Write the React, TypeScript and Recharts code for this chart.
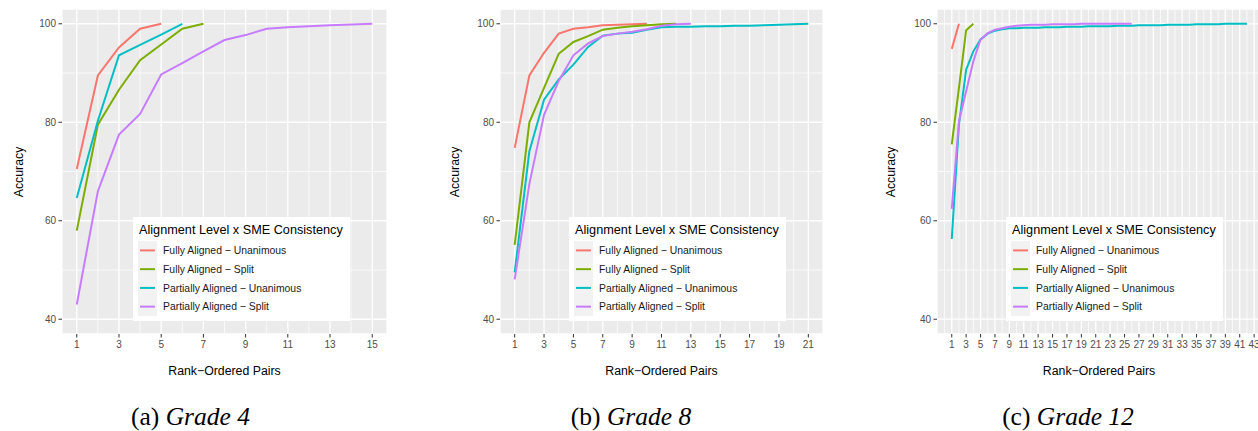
import React from 'react';
import { LineChart, Line, XAxis, YAxis, CartesianGrid } from 'recharts';

const SERIES_NAMES = [
  'Fully Aligned − Unanimous',
  'Fully Aligned − Split',
  'Partially Aligned − Unanimous',
  'Partially Aligned − Split',
];
const SERIES_COLORS = ['#F8766D', '#7CAE00', '#00BFC4', '#C77CFF'];

// Grade 4
const G4_FULLY_UNANIMOUS = [70.5, 89.5, 95.2, 99.0, 100];
const G4_FULLY_SPLIT = [58.0, 79.5, 86.6, 92.6, 95.8, 99.0, 100];
const G4_PARTIAL_UNANIMOUS = [64.6, 80.3, 93.6, 95.7, 97.8, 100];
const G4_PARTIAL_SPLIT = [43.0, 66.0, 77.5, 81.7, 89.7, 92.0, 94.4, 96.7, 97.7, 99.0, 99.3, 99.5, 99.7, 99.85, 100];

// Grade 8
const G8_FULLY_UNANIMOUS = [74.8, 89.5, 94.1, 98.0, 99.0, 99.3, 99.7, 99.8, 99.9, 100];
const G8_FULLY_SPLIT = [55.1, 80.0, 87.0, 93.9, 96.3, 97.5, 98.8, 99.2, 99.5, 99.7, 99.9, 100];
const G8_PARTIAL_UNANIMOUS = [49.5, 74.1, 84.6, 88.7, 91.7, 95.3, 97.6, 98.0, 98.2, 98.8, 99.3, 99.4, 99.4, 99.5, 99.5, 99.6, 99.6, 99.7, 99.8, 99.9, 100];
const G8_PARTIAL_SPLIT = [48.1, 67.5, 81.5, 88.4, 93.6, 96.0, 97.5, 98.0, 98.4, 98.9, 99.6, 99.9, 100];

// Grade 12
const G12_FULLY_UNANIMOUS = [94.9, 100];
const G12_FULLY_SPLIT = [75.5, 87.0, 98.7, 100];
const G12_PARTIAL_UNANIMOUS = [
  56.3, 79.5, 90.7, 94.4, 96.8, 98.0, 98.6, 98.9, 99.1, 99.1,
  99.2, 99.2, 99.2, 99.3, 99.3, 99.3, 99.4, 99.4, 99.4, 99.5,
  99.5, 99.5, 99.5, 99.6, 99.6, 99.6, 99.7, 99.7, 99.7, 99.7,
  99.8, 99.8, 99.8, 99.8, 99.9, 99.9, 99.9, 99.9, 100, 100,
  100, 100,
];
const G12_PARTIAL_SPLIT = [
  62.4, 80.2, 86.3, 92.4, 96.8, 98.1, 98.8, 99.1, 99.4, 99.6,
  99.7, 99.8, 99.8, 99.8, 99.9, 99.9, 99.9, 99.9, 100, 100,
  100, 100, 100, 100, 100, 100,
];

const Y_TICKS = [40, 60, 80, 100];
const Y_MINOR = [50, 70, 90];
const X_TICKS_G4 = [1, 3, 5, 7, 9, 11, 13, 15];
const X_MINOR_G4 = [2, 4, 6, 8, 10, 12, 14];
const X_TICKS_G8 = [1, 3, 5, 7, 9, 11, 13, 15, 17, 19, 21];
const X_MINOR_G8 = [2, 4, 6, 8, 10, 12, 14, 16, 18, 20];
const X_TICKS_G12 = [1, 3, 5, 7, 9, 11, 13, 15, 17, 19, 21, 23, 25, 27, 29, 31, 33, 35, 37, 39, 41, 43];
const X_MINOR_G12 = [0, 2, 4, 6, 8, 10, 12, 14, 16, 18, 20, 22, 24, 26, 28, 30, 32, 34, 36, 38, 40, 42, 44];

const Y_TITLE = 'Accuracy';
const X_TITLE = 'Rank−Ordered Pairs';
const LEGEND_TITLE = 'Alignment Level x SME Consistency';

const SANS = "'Liberation Sans', Arial, Helvetica, sans-serif";
const SERIF = "'Liberation Serif', 'Times New Roman', Times, serif";

type Panel = {
  plotLeft: number;
  plotWidth: number;
  xDomain: [number, number];
  xTicks: number[];
  xMinor: number[];
  series: number[][];
  capPrefix: string;
  capItalic: string;
  capCenter: number;
  legendLeft: number;
  yTitleX: number;
};

const PANELS: Panel[] = [
  {
    plotLeft: 62, plotWidth: 325, xDomain: [0.3, 15.7], xTicks: X_TICKS_G4, xMinor: X_MINOR_G4,
    series: [G4_FULLY_UNANIMOUS, G4_FULLY_SPLIT, G4_PARTIAL_UNANIMOUS, G4_PARTIAL_SPLIT],
    capPrefix: '(a) ', capItalic: 'Grade 4', capCenter: 190.5, legendLeft: 133, yTitleX: 22.5,
  },
  {
    plotLeft: 500, plotWidth: 323, xDomain: [0, 22], xTicks: X_TICKS_G8, xMinor: X_MINOR_G8,
    series: [G8_FULLY_UNANIMOUS, G8_FULLY_SPLIT, G8_PARTIAL_UNANIMOUS, G8_PARTIAL_SPLIT],
    capPrefix: '(b) ', capItalic: 'Grade 8', capCenter: 631, legendLeft: 569, yTitleX: 459,
  },
  {
    plotLeft: 936.7, plotWidth: 324.7, xDomain: [-1.05, 44.05], xTicks: X_TICKS_G12, xMinor: X_MINOR_G12,
    series: [G12_FULLY_UNANIMOUS, G12_FULLY_SPLIT, G12_PARTIAL_UNANIMOUS, G12_PARTIAL_SPLIT],
    capPrefix: '(c) ', capItalic: 'Grade 12', capCenter: 1068, legendLeft: 1006, yTitleX: 895,
  },
];

const PLOT_TOP = 9;
const PLOT_BOTTOM = 334;
const H = 431;
const YAXIS_W = 44;
const XAXIS_H = 30;
const LEFT_PAD = 6;
const RIGHT_PAD = 10;

function PanelChart({ p }: { p: Panel }) {
  const width = LEFT_PAD + YAXIS_W + p.plotWidth + RIGHT_PAD;
  return (
    <div style={{ position: 'absolute', left: p.plotLeft - LEFT_PAD - YAXIS_W, top: 0, width, height: H }}>
      <LineChart
        width={width}
        height={H}
        margin={{ top: PLOT_TOP, right: RIGHT_PAD, left: LEFT_PAD, bottom: H - PLOT_BOTTOM - XAXIS_H }}
      >
        <CartesianGrid fill="#EBEBEB" stroke="#FFFFFF" strokeWidth={1.3} />
        <CartesianGrid
          horizontalValues={Y_MINOR}
          verticalValues={p.xMinor}
          stroke="#FFFFFF"
          strokeWidth={0.7}
        />
        <XAxis
          dataKey="x"
          type="number"
          domain={p.xDomain}
          allowDataOverflow
          ticks={p.xTicks}
          interval={0}
          height={XAXIS_H}
          axisLine={false}
          tickSize={3.5}
          tickMargin={3}
          tickLine={{ stroke: '#333333' }}
          tick={{ fill: '#4D4D4D', fontSize: 10, fontFamily: SANS }}
        />
        <YAxis
          type="number"
          domain={[37, 103]}
          allowDataOverflow
          ticks={Y_TICKS}
          interval={0}
          width={YAXIS_W}
          axisLine={false}
          tickSize={3.5}
          tickMargin={2.5}
          tickLine={{ stroke: '#333333' }}
          tick={{ fill: '#4D4D4D', fontSize: 10, fontFamily: SANS }}
        />
        {p.series.map((vals, i) => (
          <Line
            key={SERIES_NAMES[i]}
            name={SERIES_NAMES[i]}
            data={vals.map((v, j) => ({ x: j + 1, y: v }))}
            dataKey="y"
            type="linear"
            stroke={SERIES_COLORS[i]}
            strokeWidth={2}
            dot={false}
            activeDot={false}
            isAnimationActive={false}
          />
        ))}
      </LineChart>
    </div>
  );
}

function Overlay() {
  return (
    <svg
      width={1258}
      height={431}
      style={{ position: 'absolute', left: 0, top: 0, pointerEvents: 'none' }}
    >
      {PANELS.map((p, k) => {
        const cx = p.plotLeft + p.plotWidth / 2;
        return (
          <g key={k}>
            <text
              transform={`translate(${p.yTitleX},172) rotate(-90)`}
              textAnchor="middle"
              fontFamily={SANS}
              fontSize={12.3}
              fill="#000"
            >
              {Y_TITLE}
            </text>
            <text x={cx} y={375} textAnchor="middle" fontFamily={SANS} fontSize={12.3} fill="#000">
              {X_TITLE}
            </text>
            <g transform={`translate(${p.legendLeft},217)`}>
              <rect x={0} y={0} width={217} height={104} fill="#FFFFFF" />
              <text x={6} y={17.3} fontFamily={SANS} fontSize={12.7} fill="#000">
                {LEGEND_TITLE}
              </text>
              <rect x={5} y={24} width={19} height={75} fill="#F2F2F2" />
              {SERIES_NAMES.map((name, i) => {
                const cy = 33.4 + 18.75 * i;
                return (
                  <g key={name}>
                    <line x1={7} x2={22} y1={cy} y2={cy} stroke={SERIES_COLORS[i]} strokeWidth={2} />
                    <text x={30} y={cy + 3.8} fontFamily={SANS} fontSize={10.4} fill="#1A1A1A">
                      {name}
                    </text>
                  </g>
                );
              })}
            </g>
            <text x={p.capCenter} y={424.5} textAnchor="middle" fontFamily={SERIF} fontSize={25.5} fill="#000">
              <tspan>{p.capPrefix}</tspan>
              <tspan fontStyle="italic">{p.capItalic}</tspan>
            </text>
          </g>
        );
      })}
    </svg>
  );
}

export default function App() {
  return (
    <div
      style={{
        position: 'absolute',
        left: 0,
        top: 0,
        width: 1258,
        height: 431,
        overflow: 'hidden',
        background: '#FFFFFF',
        fontFamily: SANS,
      }}
    >
      {PANELS.map((p, k) => (
        <PanelChart key={k} p={p} />
      ))}
      <Overlay />
    </div>
  );
}
